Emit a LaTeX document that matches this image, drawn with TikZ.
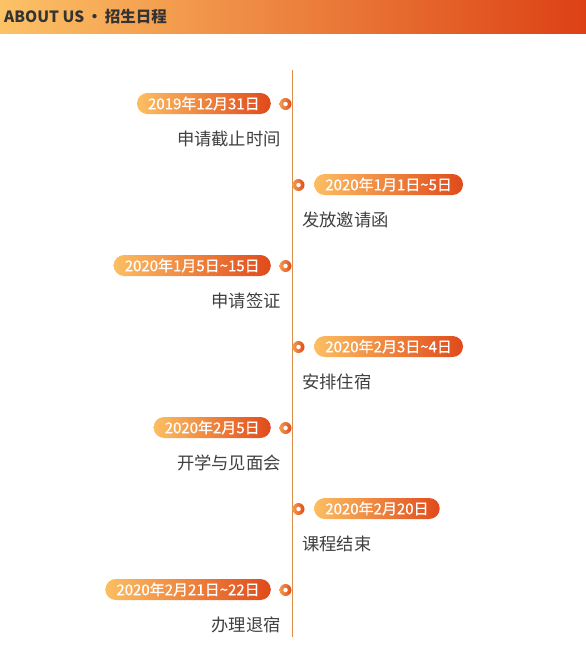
\documentclass[tikz,border=0pt]{standalone}
\usepackage{fontspec}
\setmainfont{Noto Sans CJK SC}
\newfontfamily\pillfont{Noto Sans CJK SC}[FakeBold=0.6]
\usetikzlibrary{shapes.misc}
\definecolor{hdrL}{HTML}{FCC266}
\definecolor{hdrR}{HTML}{DC4115}
\definecolor{pillL}{HTML}{FCBE62}
\definecolor{pillR}{HTML}{E04A1B}
\definecolor{lineC}{HTML}{DA8E48}
\definecolor{labC}{HTML}{404040}
\definecolor{hdrT}{HTML}{333333}
\newcommand{\tld}{{\char"7E}}
\tikzset{
  pill/.style={rounded rectangle, left color=pillL, right color=pillR, draw=none,
    minimum height=21pt, inner xsep=8.5pt, inner ysep=0pt, text=white,
    font=\pillfont\fontsize{15}{17}\selectfont},
  lab/.style={text=labC, inner sep=0pt, font=\fontsize{17.3}{19}\selectfont},
  dotc/.style={circle, minimum size=12pt, inner sep=0pt, left color=pillL!70!pillR, right color=pillR},
  dotin/.style={circle, fill=white, minimum size=4.5pt, inner sep=0pt},
  tline/.style={draw=lineC, line width=1.3pt}
}
\begin{document}
\begin{tikzpicture}[x=1pt,y=-1pt]
\useasboundingbox (0,0) rectangle (586,664);
\fill[white] (0,0) rectangle (586,664);
\shade[left color=hdrL, right color=hdrR] (0,0) rectangle (586,33);
\node[anchor=west, inner sep=0pt, text=hdrT, font=\bfseries\fontsize{15.5}{17}\selectfont] (hdr) at (4,16.5) {ABOUT US\,•\,招生日程};
\coordinate (top) at (292.5,70);
\coordinate (bot) at (292.5,637);
\draw[tline] (top) -- (bot);
% left items
\foreach \i/\y/\d/\t in {1/103.5/2019年12月31日/申请截止时间, 3/265.5/2020年1月5日\tld 15日/申请签证, 5/427.5/2020年2月5日/开学与见面会, 7/589.5/2020年2月21日\tld 22日/办理退宿}{
  \node[pill, anchor=east] (p\i) at (271,\y) {\d};
  \node[dotc] (d\i) at (285.5,\y+0.5) {};
  \node[dotin] (di\i) at (d\i) {};
  \node[lab, anchor=east] (l\i) at (281,\y+35) {\t};
}
% right items
\foreach \i/\y/\d/\t in {2/184.5/2020年1月1日\tld 5日/发放邀请函, 4/346.5/2020年2月3日\tld 4日/安排住宿, 6/508.5/2020年2月20日/课程结束}{
  \node[pill, anchor=west] (p\i) at (314,\y) {\d};
  \node[dotc] (d\i) at (298.5,\y+0.5) {};
  \node[dotin] (di\i) at (d\i) {};
  \node[lab, anchor=west] (l\i) at (302,\y+35) {\t};
}
\end{tikzpicture}
\end{document}
